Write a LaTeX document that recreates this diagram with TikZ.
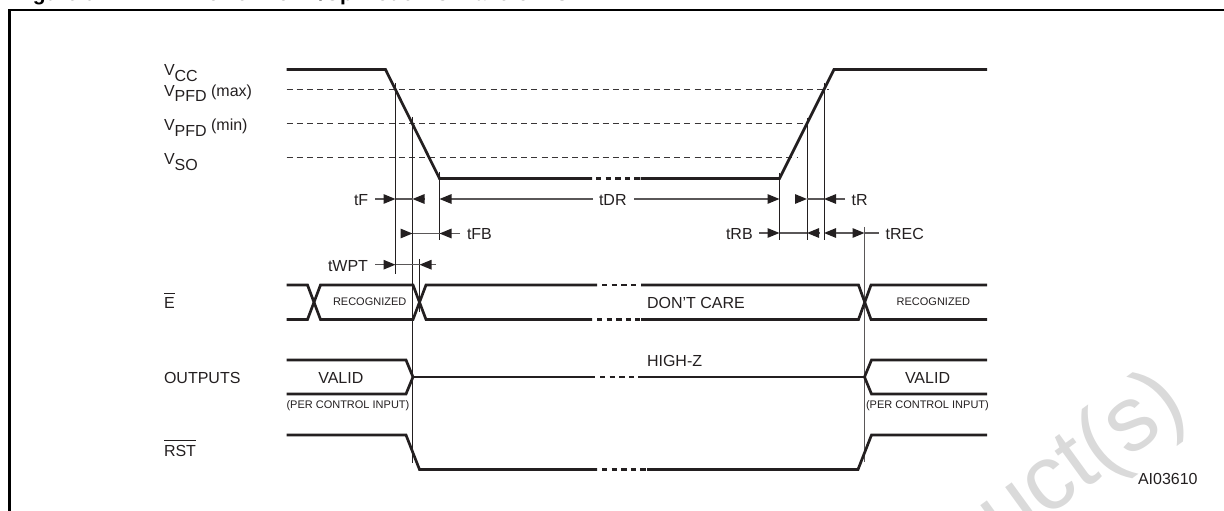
\documentclass[tikz,border=0pt]{standalone}
\usepackage{fontspec}
\setmainfont{Liberation Sans}
\usetikzlibrary{arrows.meta}
\definecolor{ink}{HTML}{231F20}
\definecolor{wmark}{HTML}{DADADA}
\tikzset{
  sig/.style={draw=ink,line width=2.7bp,line join=miter,miter limit=6},
  brk/.style={draw=ink,line width=2.7bp,dash pattern=on 5.4bp off 4.2bp},
  refline/.style={draw=ink!90,line width=1bp,dash pattern=on 6bp off 4.2bp},
  vline/.style={draw=ink,line width=1bp},
  dimline/.style={draw=ink!75,line width=1.3bp},
  arrowto/.style={dimline,-{Triangle[length=12bp,width=9.5bp,color=ink]}},
  lab/.style={anchor=base west,inner sep=0pt,outer sep=0pt,text=ink,font=\fontsize{16bp}{18bp}\selectfont},
  small/.style={lab,font=\fontsize{11bp}{13bp}\selectfont}
}
\newcommand{\lowr}[1]{\raisebox{-5.5bp}{#1}}
\newcommand{\barred}[1]{\setbox0\hbox{#1}\rlap{\rule[15.4bp]{\wd0}{0.9bp}}\box0 }
\begin{document}
\begin{tikzpicture}[x=1bp,y=-1bp]
\useasboundingbox (0,0) rectangle (1224,511);
\begin{scope}
\clip (0,0) rectangle (1224,511);
% watermark
\node[anchor=base west,inner sep=0pt,text=wmark,rotate=36,font=\fontsize{92bp}{94bp}\selectfont] (wm) at (1004,549) {uct(s)};
% clipped caption
\node[anchor=base west,inner sep=0pt,text=black,font=\bfseries\fontsize{21bp}{23bp}\selectfont] (capa) at (14,0.4) {Figure 9.};
\node[anchor=base west,inner sep=0pt,text=black,font=\bfseries\fontsize{21bp}{23bp}\selectfont] (capb) at (193,0.4) {Power Down/Up Mode AC Waveforms};
\end{scope}
% frame
\draw[black,line width=2.2bp] (1224,10) -- (9.5,10) -- (9.5,511);

% reference levels
\draw[refline] (286.5,90) -- (829,90);
\draw[refline] (286.5,124) -- (807,124);
\draw[refline] (286.5,158) -- (797,158);

% vertical timing lines
\draw[vline] (395.5,83) -- (395.5,274);
\draw[vline] (412.5,117) -- (412.5,463);
\draw[vline] (439.5,172) -- (439.5,240);
\draw[vline] (419.5,259) -- (419.5,312);
\draw[vline] (779.5,173) -- (779.5,240);
\draw[vline] (807,118) -- (807,240);
\draw[vline] (824,83) -- (824,240);
\draw[dimline] (864.5,227) -- (864.5,462);

% VCC
\draw[sig] (286.5,69.5) -- (385.5,69.5) -- (439.5,178.5) -- (592,178.5);
\draw[brk] (596,178.5) -- (640,178.5);
\draw[sig] (640.5,178.5) -- (779.5,178.5) -- (834,69.5) -- (987,69.5);

% E
\draw[sig] (286.5,285) -- (307.5,285) -- (320.5,319.5) -- (413,319.5) -- (426,285) -- (597,285);
\draw[sig] (286.5,319.5) -- (307.5,319.5) -- (320.5,285) -- (413,285) -- (426,319.5) -- (592,319.5);
\draw[brk] (602,285) -- (640,285);
\draw[brk] (597,319.5) -- (640,319.5);
\draw[sig] (641,285) -- (858.5,285) -- (871,319.5) -- (987,319.5);
\draw[sig] (641,319.5) -- (858.5,319.5) -- (871,285) -- (987,285);

% OUTPUTS
\draw[sig] (286.5,360) -- (406,360) -- (413,377) -- (406,394) -- (286.5,394);
\draw[sig] (413,377) -- (595,377);
\draw[brk] (600,377) -- (640,377);
\draw[sig] (640,377) -- (864.5,377);
\draw[sig] (987,360) -- (871.5,360) -- (864.5,377) -- (871.5,394) -- (987,394);

% RST
\draw[sig] (286.5,435) -- (406,435) -- (419.5,469.5) -- (597,469.5);
\draw[brk] (602,469.5) -- (647,469.5);
\draw[sig] (647,469.5) -- (858,469.5) -- (871.5,435) -- (987,435);

% timing dimensions
\draw[arrowto] (375,199) -- (395.5,199);
\draw[dimline] (395.5,199) -- (412.5,199);
\draw[arrowto] (424.5,199) -- (412.5,199);
\draw[arrowto] (593,199) -- (439.5,199);
\draw[arrowto] (634,199) -- (779.5,199);
\draw[arrowto] (795,199) -- (807,199);
\draw[dimline] (807,199) -- (824,199);
\draw[arrowto] (845,199) -- (824,199);

\draw[arrowto] (400.5,233.5) -- (412.5,233.5);
\draw[dimline] (412.5,233.5) -- (439.5,233.5);
\draw[arrowto] (460,233.5) -- (439.5,233.5);
\draw[arrowto] (759,233) -- (779.5,233);
\draw[dimline] (779.5,233) -- (807,233);
\draw[arrowto] (818.5,233) -- (807,233);
\draw[arrowto] (835.5,233) -- (824,233);
\draw[dimline] (835.5,233) -- (853,233);
\draw[arrowto] (852.5,233) -- (864.5,233);
\draw[dimline] (864.5,233) -- (878.7,233);

\draw[arrowto] (375,264.7) -- (395.5,264.7);
\draw[dimline] (395.5,264.7) -- (419.5,264.7);
\draw[arrowto] (436,264.7) -- (419.5,264.7);

% signal labels
\node[lab] (vcc) at (164,76) {V\lowr{CC}};
\node[lab] (pfdmax) at (164,96.5) {V\lowr{PFD} (max)};
\node[lab] (pfdmin) at (164,130.6) {V\lowr{PFD} (min)};
\node[lab] (vso) at (164,165) {V\lowr{SO}};
\node[lab] (e) at (164,309) {\barred{E}};
\node[lab] (outs) at (164,384) {OUTPUTS};
\node[lab] (rst) at (164,456) {\barred{RST}};

% timing labels
\node[lab] (tf) at (354,206) {tF};
\node[lab] (tfb) at (467,240) {tFB};
\node[lab] (twpt) at (328,272) {tWPT};
\node[lab] (tdr) at (599,206) {tDR};
\node[lab] (tr) at (851.7,206) {tR};
\node[lab] (trb) at (726,240) {tRB};
\node[lab] (trec) at (885.7,240) {tREC};

% state labels
\node[small] (rec1) at (333,306) {RECOGNIZED};
\node[small] (rec2) at (896.7,306) {RECOGNIZED};
\node[lab] (care) at (647,309) {DON'T CARE};
\node[lab] (hiz) at (647,367) {HIGH-Z};
\node[lab] (val1) at (318.3,384) {VALID};
\node[lab] (val2) at (905,384) {VALID};
\node[small] (per1) at (286.5,408) {(PER CONTROL INPUT)};
\node[small] (per2) at (866,408) {(PER CONTROL INPUT)};
\node[lab] (ai) at (1138,484) {AI03610};
\end{tikzpicture}
\end{document}
